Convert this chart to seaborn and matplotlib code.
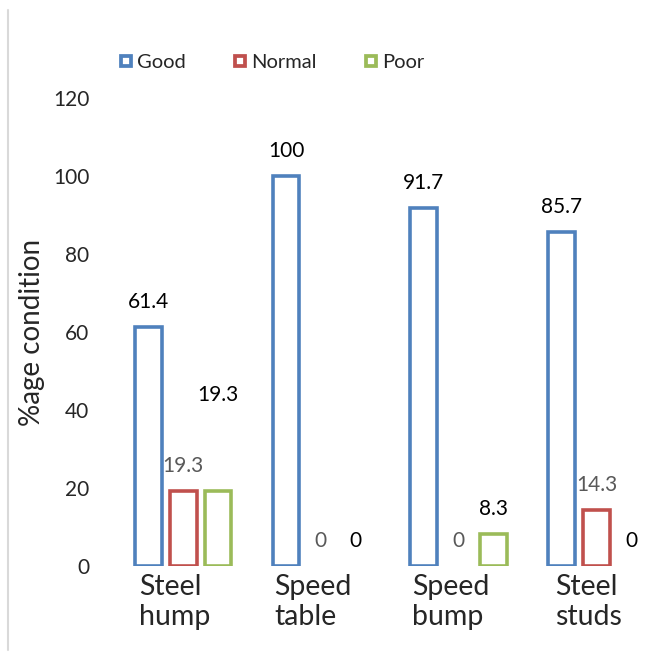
import matplotlib
matplotlib.use("Agg")
import matplotlib.pyplot as plt
from matplotlib.lines import Line2D
from matplotlib.transforms import ScaledTranslation
import seaborn as sns
import pandas as pd

structures = ["Steel\nhump", "Speed\ntable", "Speed\nbump", "Steel\nstuds"]
conditions = ["Good", "Normal", "Poor"]
good = [61.4, 100, 91.7, 85.7]
normal = [19.3, 0, 0, 14.3]
poor = [19.3, 0, 8.3, 0]
yticks = [0, 20, 40, 60, 80, 100, 120]

colors = ["#4F81BD", "#C0504D", "#9BBB59"]
label_colors = ["black", "#595959", "black"]

df = pd.DataFrame({
    "structure": structures * 3,
    "condition": ["Good"] * 4 + ["Normal"] * 4 + ["Poor"] * 4,
    "pct": good + normal + poor,
})

sns.set_style("white")
plt.rcParams["font.family"] = ["Lato", "DejaVu Sans"]

fig = plt.figure(figsize=(6.72, 6.53), dpi=100)
ax = fig.add_axes([0.170, 0.1332, 0.820, 0.7168])

sns.barplot(data=df, x="structure", y="pct", hue="condition",
            hue_order=conditions, palette=colors, fill=False,
            width=0.76, gap=0.23, linewidth=2.6, legend=False, ax=ax)

# hide outlines of zero bars, like the original
for cont in ax.containers:
    for bar in cont:
        if bar.get_height() == 0:
            bar.set_linewidth(0)

# data labels
for cont, lc in zip(ax.containers, label_colors):
    for bar in cont:
        h = bar.get_height()
        off = 18
        if bar is ax.containers[2][0]:
            off = 69  # label moved up in the source chart
        ax.annotate(f"{h:g}", (bar.get_x() + bar.get_width() / 2, h),
                    xytext=(0, off), textcoords="offset points",
                    ha="center", va="center", fontsize=15, color=lc)

ax.set_xlim(-0.5, 3.5)
ax.set_ylim(0, 120)
ax.set_yticks(yticks)
ax.tick_params(axis="y", length=0, pad=18, labelsize=15)
ax.tick_params(axis="x", length=0, pad=6, labelsize=20.5)
shift = ScaledTranslation(-8 / 100, 0, fig.dpi_scale_trans)
for t in ax.get_xticklabels():
    t.set_multialignment("left")
    t.set_linespacing(1.15)
    t.set_transform(t.get_transform() + shift)
sns.despine(ax=ax, left=True, bottom=True)
ax.set_xlabel("")
ax.set_ylabel("%age condition", fontsize=20)
ax.yaxis.set_label_coords(-0.125, 0.5)

handles = [Line2D([], [], linestyle="none", marker="s", markersize=7.5,
                  markerfacecolor="white", markeredgecolor=c,
                  markeredgewidth=2.7) for c in colors]
fig.legend(handles, conditions, loc="center", bbox_to_anchor=(0.403, 0.905),
           ncol=3, frameon=False, fontsize=14.5, handlelength=0.8,
           handletextpad=0.15, columnspacing=2.3)

# chart frame edge on the left
fig.add_artist(Line2D([0.012, 0.012], [0.005, 0.985], transform=fig.transFigure,
                      color="#D9D9D9", linewidth=1.5))

fig.savefig("out.png", dpi=100)
